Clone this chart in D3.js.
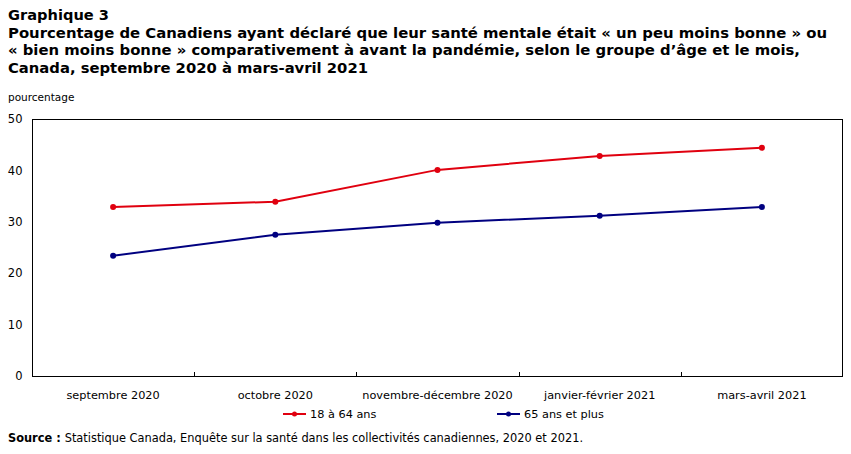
<!DOCTYPE html>
<html><head><meta charset="utf-8">
<script src="https://cdn.jsdelivr.net/npm/d3@7"></script>
<style>body{margin:0;background:#fff}svg{display:block}text{font-family:Verdana,"DejaVu Sans",sans-serif}</style>
</head><body><svg id="c" width="851" height="454"></svg>
<script>
const categories = ["septembre 2020","octobre 2020","novembre-décembre 2020","janvier-février 2021","mars-avril 2021"];
const series1Name = "18 à 64 ans";
const series1 = [32.9, 33.9, 40.1, 42.8, 44.4];
const series2Name = "65 ans et plus";
const series2 = [23.4, 27.5, 29.8, 31.2, 32.9];
const yTicks = [0,10,20,30,40,50];
const titleLines = ["Graphique 3",
 "Pourcentage de Canadiens ayant déclaré que leur santé mentale était « un peu moins bonne » ou",
 "« bien moins bonne » comparativement à avant la pandémie, selon le groupe d’âge et le mois,",
 "Canada, septembre 2020 à mars-avril 2021"];

const svg = d3.select("#c");
const L=32, R=843, T=119, B=376;
const x = d3.scaleBand().domain(categories).range([L,R]);
const y = d3.scaleLinear().domain([0,50]).range([B,T]);
const cond = '"DejaVu Sans Condensed","DejaVu Sans",sans-serif';

// title
const tW=[101,819,792,360];
titleLines.forEach((t,i)=>{
  svg.append("text").attr("x",8).attr("y",20+i*17.7).attr("font-weight","bold").attr("font-family",cond)
    .attr("font-size",14.5).attr("fill","#000").attr("textLength",tW[i]).attr("lengthAdjust","spacingAndGlyphs").text(t);
});
svg.append("text").attr("x",8).attr("y",101).attr("font-size",10.5).attr("fill","#000").text("pourcentage");

// frame
svg.append("rect").attr("x",L+0.5).attr("y",T+0.5).attr("width",R-L-1).attr("height",B-T).attr("fill","none").attr("stroke","#000");

// y axis
const ya = svg.append("g").attr("transform",`translate(${L+0.5},0)`).call(d3.axisLeft(y).tickValues(yTicks).tickSize(0).tickPadding(10));
ya.select(".domain").remove();
ya.selectAll("text").attr("font-size",11.5).attr("font-family",'Verdana,"DejaVu Sans",sans-serif').attr("fill","#000");

// x axis
const xa = svg.append("g").attr("transform",`translate(0,${B+0.5})`).call(d3.axisBottom(x).tickSize(0).tickPadding(14));
xa.select(".domain").remove();
xa.selectAll("text").attr("font-size",11.3).attr("font-family",cond).attr("fill","#000");
// inner category separators
categories.slice(1).forEach(c=>{
  const xx=Math.round(x(c))+0.5;
  svg.append("line").attr("x1",xx).attr("x2",xx).attr("y1",B).attr("y2",B-4).attr("stroke","#000");
});

const cx = c=>x(c)+x.bandwidth()/2;
const line = d3.line().x((d,i)=>cx(categories[i])).y(d=>y(d));
const cols=["#e0000f","#000080"];
[series1,series2].forEach((s,k)=>{
  svg.append("path").attr("d",line(s)).attr("fill","none").attr("stroke",cols[k]).attr("stroke-width",2);
  svg.selectAll(null).data(s).enter().append("circle").attr("cx",(d,i)=>cx(categories[i])).attr("cy",d=>y(d)).attr("r",3).attr("fill",cols[k]);
});

// legend
const leg=[[series1Name,283],[series2Name,497]];
leg.forEach((l,k)=>{
  const g=svg.append("g");
  g.append("line").attr("x1",l[1]).attr("x2",l[1]+23).attr("y1",414).attr("y2",414).attr("stroke",cols[k]).attr("stroke-width",2);
  g.append("circle").attr("cx",l[1]+11.5).attr("cy",414).attr("r",2.5).attr("fill",cols[k]);
  g.append("text").attr("x",l[1]+27).attr("y",418).attr("font-size",11.3).attr("fill","#000").text(l[0]);
});

// source
const st=svg.append("text").attr("x",8).attr("y",442).attr("font-size",12).attr("font-family",cond).attr("fill","#000")
  .attr("textLength",575).attr("lengthAdjust","spacingAndGlyphs");
st.append("tspan").attr("font-weight","bold").text("Source : ");
st.append("tspan").text("Statistique Canada, Enquête sur la santé dans les collectivités canadiennes, 2020 et 2021.");
</script></body></html>
